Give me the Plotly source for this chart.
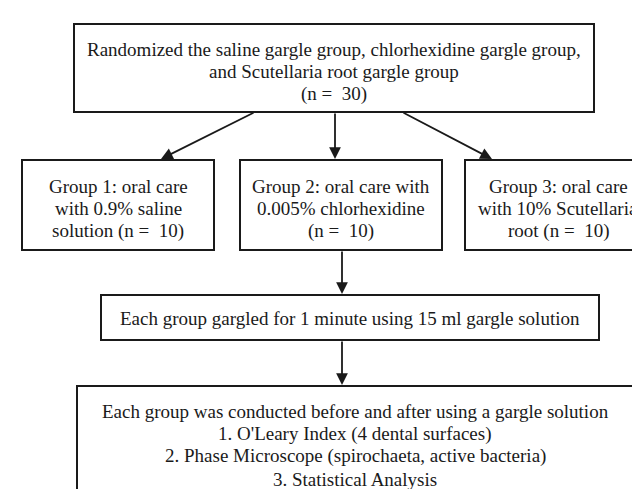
import plotly.graph_objects as go

# ---- data: node texts ----
top_text = ["Randomized the saline gargle group, chlorhexidine gargle group,",
            "and Scutellaria root gargle group",
            "(n =  30)"]
group_texts = [
    ["Group 1: oral care", "with 0.9% saline", "solution (n =  10)"],
    ["Group 2: oral care with", "0.005% chlorhexidine", "(n =  10)"],
    ["Group 3: oral care", "with 10% Scutellaria", "root (n =  10)"],
]
gargle_text = ["Each group gargled for 1 minute using 15 ml gargle solution"]
final_text = ["Each group was conducted before and after using a gargle solution",
              "1. O'Leary Index (4 dental surfaces)",
              "2. Phase Microscope (spirochaeta, active bacteria)",
              "3. Statistical Analysis"]

# ---- layout geometry (pixel-like axis units) ----
W, H = 640, 489
FONT = dict(family="Liberation Serif", size=19, color="#1a1a1a")
LINE = dict(color="#1a1a1a", width=2)

boxes = [
    (66, 16, 586, 104),     # top
    (14, 152, 206, 242),    # group 1
    (232, 152, 434, 242),   # group 2
    (457, 152, 646, 242),   # group 3 (right edge cropped by image)
    (93, 287, 591, 332),    # gargle
    (69, 378, 625, 520),    # final (bottom edge cropped by image)
]
texts = [top_text] + group_texts + [gargle_text, final_text]
text_x = [326, 110, 333, 550, 342, 347]
text_y0 = [41, 178, 178, 178, 310, 403]
line_gap = 22.7

arrows = [  # (tail_x, tail_y, tip_x, tip_y)
    (247, 104, 153, 151),
    (327, 104, 327, 151),
    (394, 104, 484, 151),
    (334, 242, 334, 286),
    (334, 332, 334, 377),
]

fig = go.Figure()
fig.add_trace(go.Scatter(x=[0, W], y=[0, H], mode="markers",
                         marker=dict(opacity=0), hoverinfo="skip", showlegend=False))

for (x0, y0, x1, y1) in boxes:
    fig.add_shape(type="rect", x0=x0, y0=y0, x1=x1, y1=y1, xref="x", yref="y",
                  line=LINE, fillcolor="rgba(0,0,0,0)")

for lines, cx, y0 in zip(texts, text_x, text_y0):
    for i, ln in enumerate(lines):
        fig.add_annotation(x=cx, y=y0 + i * line_gap, xref="x", yref="y", text=ln,
                           showarrow=False, font=FONT, align="center",
                           xanchor="center", yanchor="middle")

for (tx, ty, hx, hy) in arrows:
    fig.add_annotation(x=hx, y=hy, ax=tx, ay=ty, xref="x", yref="y",
                       axref="x", ayref="y", text="", showarrow=True,
                       arrowhead=2, arrowsize=1.3, arrowwidth=1.8,
                       arrowcolor="#1a1a1a", standoff=0, startstandoff=0)

fig.update_layout(width=W, height=H, margin=dict(l=0, r=0, t=0, b=0),
                  paper_bgcolor="white", plot_bgcolor="white", showlegend=False)
fig.update_xaxes(range=[0, W], visible=False, fixedrange=True)
fig.update_yaxes(range=[H, 0], visible=False, fixedrange=True)

fig.write_html("out.html")
